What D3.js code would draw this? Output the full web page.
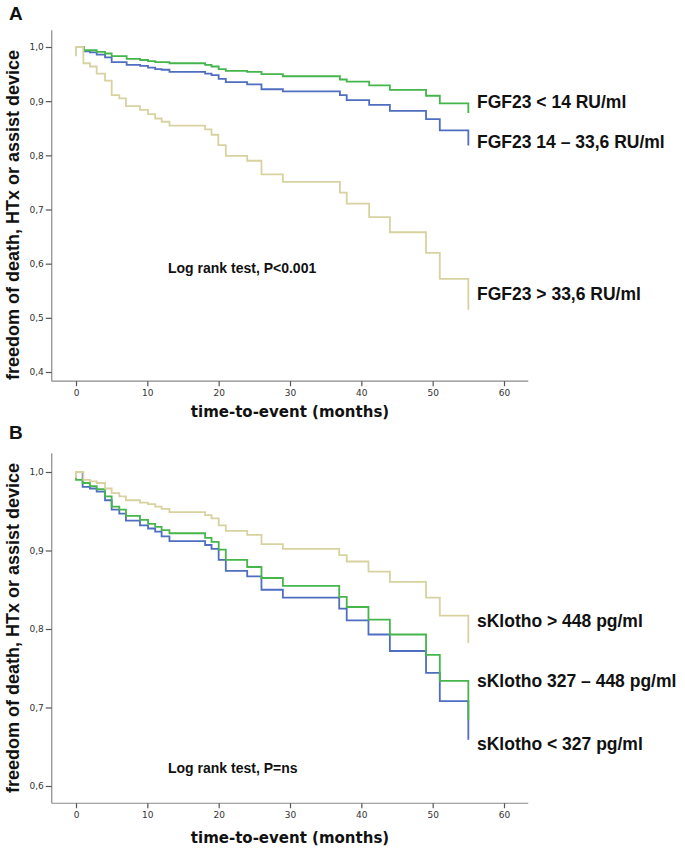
<!DOCTYPE html>
<html>
<head>
<meta charset="utf-8">
<script src="https://cdn.jsdelivr.net/npm/d3@7"></script>
<style>
  html, body { margin: 0; padding: 0; background: #fff; }
  svg { display: block; }
</style>
</head>
<body>
<svg id="chart" width="685" height="848"></svg>
<script>
// ---------------- DATA ----------------
// Panel A: FGF23 groups, Kaplan-Meier steps [time (months), survival]
const fgfLow = [[0,1.0],[1.1,0.994],[2.9,0.991],[4.07,0.988],[5.0,0.983],[7.1,0.978],[9.0,0.976],[10.1,0.974],[11.1,0.972],[13.1,0.970],[18.1,0.967],[19.0,0.964],[20.0,0.959],[21.0,0.956],[24.0,0.954],[26.0,0.950],[29.0,0.946],[37.0,0.940],[37.95,0.936],[41.1,0.929],[44.0,0.921],[49.07,0.910],[51.0,0.896],[55.0,0.878]];
const fgfMid = [[0,1.0],[1.1,0.992],[1.96,0.990],[2.9,0.986],[4.07,0.981],[5.0,0.972],[7.1,0.967],[9.0,0.965],[10.1,0.962],[11.1,0.959],[12.0,0.958],[13.1,0.954],[18.1,0.951],[19.0,0.948],[20.0,0.941],[21.0,0.935],[24.0,0.931],[26.0,0.922],[29.0,0.918],[37.0,0.911],[37.95,0.902],[41.1,0.893],[44.0,0.882],[49.07,0.867],[51.0,0.846],[55.0,0.818]];
const fgfHigh = [[0,0.983],[0,1.0],[1.03,0.970],[1.96,0.964],[2.9,0.951],[4.07,0.938],[5.0,0.911],[6.07,0.905],[7.0,0.891],[8.97,0.884],[10.1,0.876],[11.1,0.868],[12.0,0.862],[13.1,0.855],[18.1,0.848],[19.0,0.838],[19.95,0.819],[21.0,0.799],[24.0,0.790],[26.0,0.765],[29.0,0.751],[37.0,0.731],[37.95,0.711],[41.1,0.686],[44.0,0.658],[49.07,0.620],[51.0,0.572],[55.0,0.515]];

// Panel B: sKlotho groups
const klothoLow = [[0,1.0],[0.93,0.981],[1.96,0.979],[2.9,0.975],[4.07,0.964],[5.0,0.952],[6.07,0.947],[7.0,0.938],[8.97,0.932],[10.1,0.928],[11.1,0.924],[12.0,0.918],[13.1,0.912],[18.1,0.907],[19.0,0.902],[20.0,0.888],[21.0,0.874],[24.0,0.867],[26.0,0.850],[29.0,0.840],[36.9,0.826],[37.95,0.811],[41.0,0.793],[44.0,0.772],[49.07,0.744],[51.0,0.708],[55.0,0.659]];
const klothoMid = [[0,0.996],[0,0.990],[0.93,0.986],[1.96,0.982],[2.9,0.978],[4.07,0.969],[5.0,0.956],[6.07,0.952],[7.0,0.944],[8.97,0.939],[10.1,0.934],[11.1,0.930],[12.0,0.926],[13.1,0.922],[18.1,0.916],[19.0,0.911],[20.0,0.901],[21.0,0.888],[24.0,0.879],[26.0,0.865],[29.0,0.855],[36.9,0.841],[37.95,0.828],[41.0,0.812],[44.0,0.793],[49.07,0.767],[51.0,0.734],[55.0,0.684]];
const klothoHigh = [[0,0.992],[0,1.0],[1.03,0.990],[1.96,0.988],[2.9,0.986],[4.07,0.979],[5.0,0.973],[6.07,0.969],[7.0,0.964],[8.97,0.961],[10.1,0.959],[11.1,0.956],[12.0,0.953],[13.1,0.949],[18.1,0.945],[19.0,0.941],[20.0,0.932],[21.0,0.925],[24.0,0.920],[26.0,0.908],[29.0,0.902],[36.9,0.894],[37.95,0.886],[41.0,0.873],[44.0,0.860],[49.07,0.840],[51.0,0.817],[55.0,0.782]];

const xTicks = [0, 10, 20, 30, 40, 50, 60];
const yTicksA = [0.4, 0.5, 0.6, 0.7, 0.8, 0.9, 1.0];
const yTicksB = [0.6, 0.7, 0.8, 0.9, 1.0];

const labelsA = ["FGF23 < 14 RU/ml", "FGF23 14 \u2013 33,6 RU/ml", "FGF23 > 33,6 RU/ml"];
const labelsB = ["sKlotho > 448 pg/ml", "sKlotho 327 \u2013 448 pg/ml", "sKlotho < 327 pg/ml"];
const testA = "Log rank test, P<0.001";
const testB = "Log rank test, P=ns";
const yTitle = "freedom of death, HTx or assist device";
const xTitle = "time-to-event (months)";

// ---------------- STYLE ----------------
const GREEN = "#46b54c", BLUE = "#4f6ec0", BEIGE = "#d8d2a0";
const svg = d3.select("#chart");
svg.append("rect").attr("width", 685).attr("height", 848).attr("fill", "#fff");

const x = d3.scaleLinear().domain([0, 60]).range([76, 504]);
const fmt = v => d3.format(".1f")(v).replace(".", ",");

function panel(cfg) {
  const g = svg.append("g");
  const y = d3.scaleLinear().domain(cfg.yDomain).range(cfg.yRange);
  const x0 = x(-3.4), x1 = x(63.4);
  const yTop = y(cfg.yAxisTop), yBot = y(cfg.yAxisBot);

  // axis lines
  g.append("line").attr("x1", x0).attr("x2", x0).attr("y1", yTop).attr("y2", yBot)
    .attr("stroke", "#8a8a8a").attr("stroke-width", 1.2);
  g.append("line").attr("x1", x0).attr("x2", x1).attr("y1", yBot).attr("y2", yBot)
    .attr("stroke", "#8a8a8a").attr("stroke-width", 1.2);

  // x axis ticks
  const xa = g.append("g").attr("transform", `translate(0,${yBot})`)
    .call(d3.axisBottom(x).tickValues(xTicks).tickSize(5).tickSizeOuter(0).tickPadding(3));
  xa.select(".domain").remove();
  xa.selectAll(".tick line").attr("stroke", "#555").attr("stroke-width", 1.2);
  xa.selectAll(".tick text").attr("font-family", "DejaVu Sans, Verdana, sans-serif")
    .attr("font-size", 9).attr("fill", "#333");

  // y axis ticks
  const ya = g.append("g").attr("transform", `translate(${x0},0)`)
    .call(d3.axisLeft(y).tickValues(cfg.yTicks).tickFormat(fmt).tickSize(6).tickSizeOuter(0).tickPadding(2));
  ya.select(".domain").remove();
  ya.selectAll(".tick line").attr("stroke", "#555").attr("stroke-width", 1.2);
  ya.selectAll(".tick text").attr("font-family", "DejaVu Sans, Verdana, sans-serif")
    .attr("font-size", 9).attr("fill", "#333");

  // curves
  const line = d3.line().x(d => x(d[0])).y(d => y(d[1])).curve(d3.curveStepAfter);
  cfg.series.forEach(s => {
    g.append("path").attr("d", line(s.data)).attr("fill", "none")
      .attr("stroke", s.color).attr("stroke-width", 1.8);
  });

  // group labels
  cfg.labels.forEach(l => {
    g.append("text").attr("x", 477).attr("y", l.y).text(l.text)
      .attr("font-family", "Liberation Sans, Arial, sans-serif")
      .attr("font-weight", "bold").attr("font-size", 17.5).attr("fill", "#111");
  });

  // log rank
  g.append("text").attr("x", 168).attr("y", cfg.testY).text(cfg.test)
    .attr("font-family", "Liberation Sans, Arial, sans-serif")
    .attr("font-weight", "bold").attr("font-size", 14).attr("fill", "#111");

  // panel letter
  g.append("text").attr("x", 9).attr("y", cfg.letterY).text(cfg.letter)
    .attr("font-family", "Liberation Sans, Arial, sans-serif")
    .attr("font-weight", "bold").attr("font-size", 19).attr("fill", "#111");

  // y title
  g.append("text").attr("transform", `translate(19,${cfg.yTitleC}) rotate(-90)`)
    .attr("text-anchor", "middle").text(yTitle)
    .attr("font-family", "Liberation Sans, Arial, sans-serif")
    .attr("font-weight", "bold").attr("font-size", 18).attr("fill", "#111");

  // x title
  g.append("text").attr("x", 290).attr("y", cfg.xTitleY).attr("text-anchor", "middle").text(xTitle)
    .attr("font-family", "DejaVu Sans, Verdana, sans-serif")
    .attr("font-weight", "bold").attr("font-size", 15).attr("fill", "#111");
}

panel({
  yDomain: [0.4, 1.0], yRange: [372, 47], yAxisTop: 1.031, yAxisBot: 0.383,
  yTicks: yTicksA,
  series: [{data: fgfMid, color: BLUE}, {data: fgfLow, color: GREEN}, {data: fgfHigh, color: BEIGE}],
  labels: [{text: labelsA[0], y: 108}, {text: labelsA[1], y: 148}, {text: labelsA[2], y: 300}],
  test: testA, testY: 273, letter: "A", letterY: 20, yTitleC: 215, xTitleY: 417
});

panel({
  yDomain: [0.6, 1.0], yRange: [786, 472], yAxisTop: 1.024, yAxisBot: 0.578,
  yTicks: yTicksB,
  series: [{data: klothoLow, color: BLUE}, {data: klothoMid, color: GREEN}, {data: klothoHigh, color: BEIGE}],
  labels: [{text: labelsB[0], y: 627}, {text: labelsB[1], y: 687}, {text: labelsB[2], y: 750}],
  test: testB, testY: 773, letter: "B", letterY: 439, yTitleC: 628, xTitleY: 843
});
</script>
</body>
</html>
